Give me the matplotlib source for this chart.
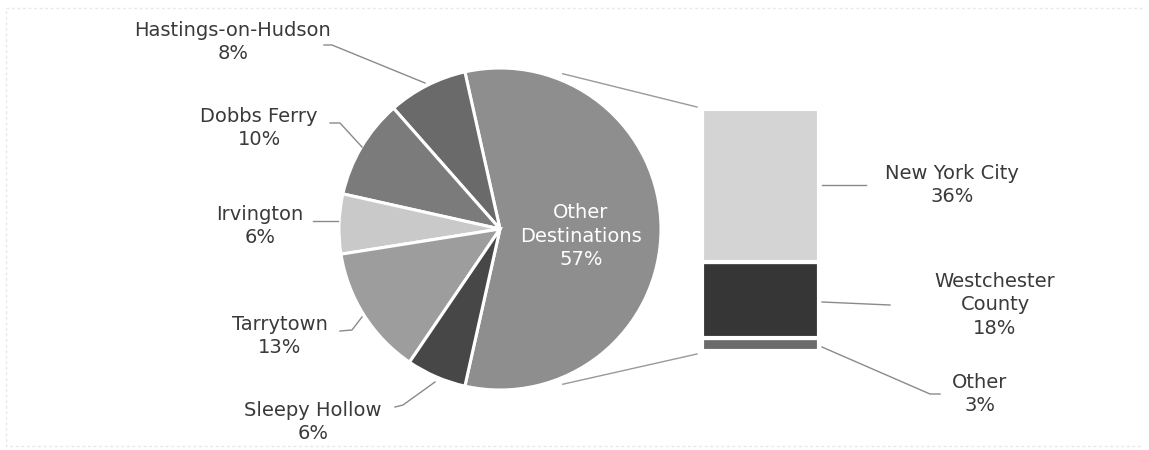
import matplotlib.pyplot as plt
import numpy as np

# commute destinations (percent of workers)
towns = ['Other\nDestinations', 'Hastings-on-Hudson', 'Dobbs Ferry', 'Irvington',
         'Tarrytown', 'Sleepy Hollow']
town_pct = [57, 8, 10, 6, 13, 6]
town_colors = ['#8e8e8e', '#6a6a6a', '#7b7b7b', '#c9c9c9', '#9d9d9d', '#474747']

# breakdown of "Other Destinations", stacked bottom to top
other_names = ['Other', 'Westchester\nCounty', 'New York City']
other_pct = [3, 18, 36]
other_colors = ['#6b6b6b', '#363636', '#d4d4d4']

plt.rcParams['font.family'] = ['DejaVu Sans']
TXT = '#3a3a3a'
LEAD = '#8a8a8a'
FS = 14
LS = 1.3

W, H = 1149, 450
fig = plt.figure(figsize=(W / 100, H / 100), dpi=100)

# main axes in pixel units, y pointing up
ax = fig.add_axes([0, 0, 1, 1])

def py(y):
    return H - y

cx, cy, r = 500, py(229), 161
start = -town_pct[0] / 100 * 360 / 2
ax.pie(town_pct, colors=town_colors, startangle=start, center=(cx, cy), radius=r,
       wedgeprops=dict(edgecolor='white', linewidth=2.2), frame=True)
ax.set_xlim(0, W)
ax.set_ylim(0, H)
ax.set_aspect('equal')
ax.axis('off')

# label inside the big wedge
ax.text(581, py(236), f'{towns[0]}\n{town_pct[0]}%', color='white', ha='center',
        va='center', fontsize=FS, linespacing=LS)

# outside labels and leader lines (pixel coords, y down)
labels = [
    (1, 233, 42, [(324, 45), (332, 45), (425, 83)]),
    (2, 259, 128, [(330, 123), (340, 123), (362, 147)]),
    (3, 260, 226, [(313, 221), (338, 221)]),
    (4, 280, 336, [(340, 331), (352, 330), (362, 317)]),
    (5, 313, 422, [(395, 407), (403, 405), (435, 382)]),
]
for i, tx, ty, pts in labels:
    ax.text(tx, py(ty), f'{towns[i]}\n{town_pct[i]}%', color=TXT, ha='center',
            va='center', fontsize=FS, linespacing=LS)
    xs, ys = zip(*pts)
    ax.plot(xs, [py(v) for v in ys], color=LEAD, lw=1)

# stacked bar for the breakdown
bar_left, bar_right, bar_top, bar_bottom = 702, 819, 109, 351
bx = fig.add_axes([bar_left / W, (H - bar_bottom) / H,
                   (bar_right - bar_left) / W, (bar_bottom - bar_top) / H])
bottom = 0
for name, v, c in zip(other_names, other_pct, other_colors):
    bx.bar(0, v, width=1, bottom=bottom, color=c, edgecolor='white', linewidth=3)
    bottom += v
bx.set_xlim(-0.5, 0.5)
bx.set_ylim(0, sum(other_pct))
bx.axis('off')

# connectors between pie and bar
for sgn, y_end in [(1, 107), (-1, 354)]:
    a = np.deg2rad(68 * sgn)
    x0, y0 = cx + 1.04 * r * np.cos(a), cy + 1.04 * r * np.sin(a)
    ax.plot([x0, 697], [y0, py(y_end)], color='#9a9a9a', lw=1)

# bar labels
bar_labels = [
    (2, 952, 185, [(822, 185), (866, 185)]),
    (1, 995, 305, [(822, 302), (890, 305)]),
    (0, 980, 394, [(822, 347), (930, 394), (940, 394)]),
]
for i, tx, ty, pts in bar_labels:
    ax.text(tx, py(ty), f'{other_names[i]}\n{other_pct[i]}%', color=TXT, ha='center',
            va='center', fontsize=FS, linespacing=LS)
    xs, ys = zip(*pts)
    ax.plot(xs, [py(v) for v in ys], color=LEAD, lw=1)

# faint frame (top, left, bottom)
ax.plot([1142, 6, 6, 1142], [py(8), py(8), py(446), py(446)], color='#e8e8e8',
        lw=1, linestyle=(0, (2, 2)))

fig.savefig('out.png', dpi=100)
